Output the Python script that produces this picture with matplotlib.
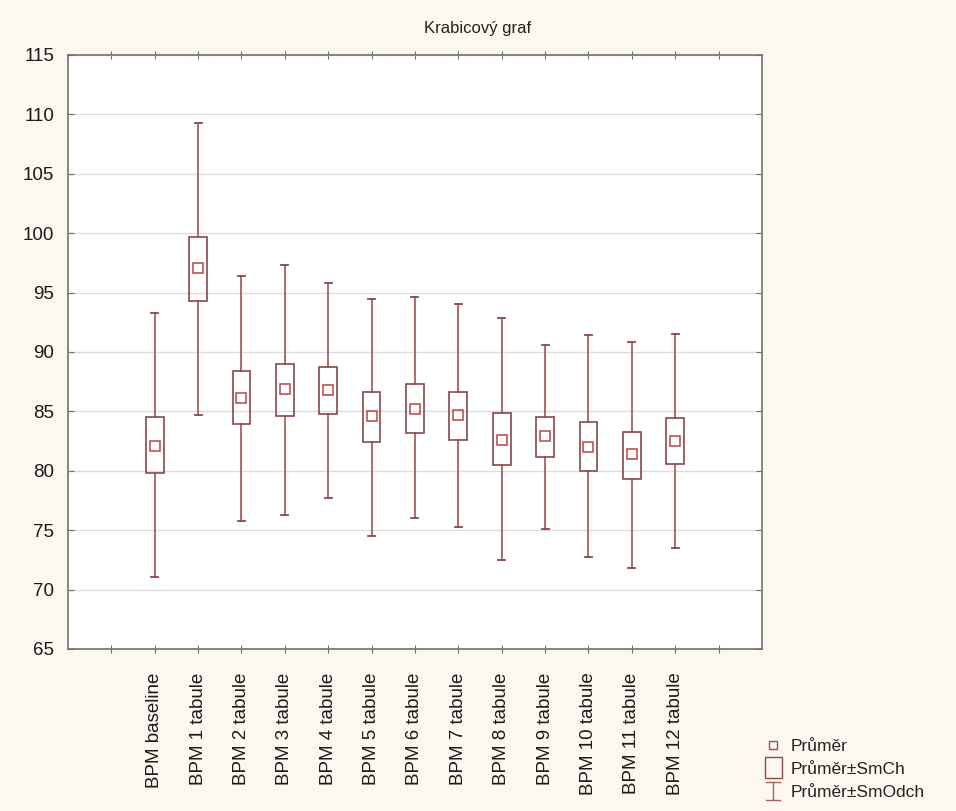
import matplotlib
matplotlib.use("Agg")
import matplotlib.pyplot as plt
from matplotlib.lines import Line2D
from matplotlib.patches import Rectangle
from matplotlib.legend_handler import HandlerBase

plt.rcParams['font.family'] = ['Liberation Sans', 'DejaVu Sans']

categories = ["BPM baseline", "BPM 1 tabule", "BPM 2 tabule", "BPM 3 tabule",
              "BPM 4 tabule", "BPM 5 tabule", "BPM 6 tabule", "BPM 7 tabule",
              "BPM 8 tabule", "BPM 9 tabule", "BPM 10 tabule", "BPM 11 tabule",
              "BPM 12 tabule"]
mean_vals = [82.1, 97.1, 86.1, 86.9, 86.8, 84.6, 85.2, 84.7, 82.6, 82.9, 82.0, 81.4, 82.5]
box_low = [79.8, 94.3, 83.9, 84.6, 84.8, 82.4, 83.2, 82.6, 80.5, 81.2, 80.0, 79.3, 80.6]
box_high = [84.5, 99.7, 88.4, 89.0, 88.7, 86.6, 87.3, 86.6, 84.9, 84.5, 84.1, 83.3, 84.4]
whisk_low = [71.05, 84.7, 75.8, 76.3, 77.7, 74.5, 76.0, 75.3, 72.5, 75.1, 72.7, 71.8, 73.5]
whisk_high = [93.3, 109.3, 96.4, 97.3, 95.8, 94.5, 94.6, 94.0, 92.9, 90.6, 91.4, 90.8, 91.5]
yticks = [65, 70, 75, 80, 85, 90, 95, 100, 105, 110, 115]

box_color = "#8a4848"
whisk_color = "#a86060"
mean_color = "#b04848"

fig = plt.figure(figsize=(9.56, 8.11), dpi=100, facecolor="#fcf8f0")
ax = fig.add_axes([0.0711, 0.1998, 0.7259, 0.7324])
ax.set_facecolor("white")

positions = list(range(1, len(categories) + 1))
bw = 0.41
cap = 0.16
for i, p in enumerate(positions):
    ax.plot([p, p], [box_high[i], whisk_high[i]], color=whisk_color, lw=1.3, zorder=3)
    ax.plot([p, p], [whisk_low[i], box_low[i]], color=whisk_color, lw=1.3, zorder=3)
    ax.plot([p - cap / 2, p + cap / 2], [whisk_high[i]] * 2, color=box_color, lw=1.3, zorder=3)
    ax.plot([p - cap / 2, p + cap / 2], [whisk_low[i]] * 2, color=box_color, lw=1.3, zorder=3)
    ax.add_patch(Rectangle((p - bw / 2, box_low[i]), bw, box_high[i] - box_low[i],
                           facecolor="none", edgecolor=box_color, lw=1.2, zorder=4))
ax.plot(positions, mean_vals, linestyle="none", marker="s", markersize=7,
        markerfacecolor="none", markeredgecolor=mean_color, markeredgewidth=1.1, zorder=5)

ax.set_xlim(-1, 15)
ax.set_ylim(65, 115)
ax.set_yticks(yticks)
ax.set_xticks(range(0, 15))
ax.set_xticklabels([""] + categories + [""], rotation=90)
ax.yaxis.grid(True, color="#dcdcdc", lw=1.0)
ax.set_axisbelow(True)
ax.tick_params(axis="both", direction="in", length=4, width=0.8, color="#707070",
               top=True, right=True, labelsize=13.5, labelcolor="#1a1a1a")
ax.tick_params(axis="x", direction="inout", length=6, pad=14)
ax.tick_params(axis="y", pad=10)
for s in ax.spines.values():
    s.set_color("#707070")
    s.set_linewidth(1.2)

fig.text(0.5, 0.965, "Krabicový graf", ha="center", va="center", fontsize=12, color="#222222")


class MeanHandler(HandlerBase):
    def create_artists(self, legend, orig, xd, yd, w, h, fs, trans):
        s = 6
        r = Rectangle((w / 2 - s / 2, h / 2 - s / 2), s, s, facecolor="none",
                      edgecolor=mean_color, lw=1.0, transform=trans)
        return [r]


class BoxHandler(HandlerBase):
    def create_artists(self, legend, orig, xd, yd, w, h, fs, trans):
        bwid, bht = 12, 15
        r = Rectangle((w / 2 - bwid / 2, h / 2 - bht / 2), bwid, bht, facecolor="none",
                      edgecolor=box_color, lw=1.0, transform=trans)
        return [r]


class WhiskHandler(HandlerBase):
    def create_artists(self, legend, orig, xd, yd, w, h, fs, trans):
        hh = 13
        cw = 10
        l1 = Line2D([w / 2, w / 2], [h / 2 - hh / 2, h / 2 + hh / 2], color=whisk_color, lw=1.0, transform=trans)
        l2 = Line2D([w / 2 - cw / 2, w / 2 + cw / 2], [h / 2 + hh / 2] * 2, color=whisk_color, lw=1.0, transform=trans)
        l3 = Line2D([w / 2 - cw / 2, w / 2 + cw / 2], [h / 2 - hh / 2] * 2, color=whisk_color, lw=1.0, transform=trans)
        return [l1, l2, l3]


class H1:
    pass


class H2:
    pass


class H3:
    pass


leg = fig.legend([H1(), H2(), H3()], ["Průměr", "Průměr±SmCh", "Průměr±SmOdch"],
                 handler_map={H1: MeanHandler(), H2: BoxHandler(), H3: WhiskHandler()},
                 loc="upper left", bbox_to_anchor=(0.798, 0.089), frameon=False,
                 fontsize=12.5, handlelength=1.2, handletextpad=0.4, labelspacing=0.45,
                 borderaxespad=0, borderpad=0)
for t in leg.get_texts():
    t.set_color("#222222")

fig.savefig("out.png", dpi=100, facecolor=fig.get_facecolor())
